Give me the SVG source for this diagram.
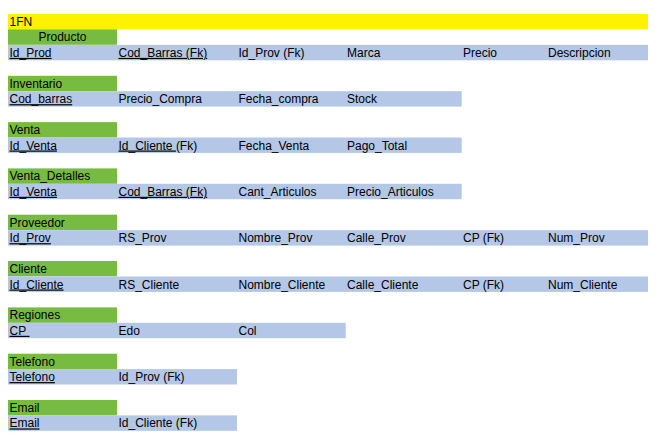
<svg xmlns="http://www.w3.org/2000/svg" width="668" height="434" viewBox="0 0 668 434">
<style>
text{font-family:"Liberation Sans",Arial,sans-serif;font-size:12px;fill:#000}
.y{fill:#fff200}
.g{fill:#77bc41}
.b{fill:#b4c7e7}
.u{text-decoration:underline}
</style>
<rect width="668" height="434" fill="#fff"/>
<g id="title">
<rect class="y" x="8" y="14" width="640" height="15.4"/>
<text x="9.5" y="26">1FN</text>
</g>
<g id="producto">
<rect class="g" x="8" y="29.4" width="109" height="15.4"/>
<text x="62.5" y="41.4" text-anchor="middle">Producto</text>
<rect class="b" x="8" y="44.9" width="640" height="15.4"/>
<text x="9.5" y="56.9" class="u">Id_Prod</text>
<text x="118.5" y="56.9" class="u">Cod_Barras (Fk)</text>
<text x="238.5" y="56.9">Id_Prov (Fk)</text>
<text x="347" y="56.9">Marca</text>
<text x="463" y="56.9">Precio</text>
<text x="548" y="56.9">Descripcion</text>
</g>
<g id="inventario">
<rect class="g" x="8" y="75.8" width="109" height="15.4"/>
<text x="9.5" y="87.8">Inventario</text>
<rect class="b" x="8" y="91.2" width="453.7" height="15.4"/>
<text x="9.5" y="103.2" class="u">Cod_barras</text>
<text x="118.5" y="103.2">Precio_Compra</text>
<text x="238.5" y="103.2">Fecha_compra</text>
<text x="347" y="103.2">Stock</text>
</g>
<g id="venta">
<rect class="g" x="8" y="122.1" width="109" height="15.4"/>
<text x="9.5" y="134.1">Venta</text>
<rect class="b" x="8" y="137.5" width="453.7" height="15.4"/>
<text x="9.5" y="149.5" class="u">Id_Venta</text>
<text x="118.5" y="149.5"><tspan class="u">Id_Cliente </tspan>(Fk)</text>
<text x="238.5" y="149.5">Fecha_Venta</text>
<text x="347" y="149.5">Pago_Total</text>
</g>
<g id="venta_detalles">
<rect class="g" x="8" y="168.4" width="109" height="15.4"/>
<text x="9.5" y="180.4">Venta_Detalles</text>
<rect class="b" x="8" y="183.8" width="453.7" height="15.4"/>
<text x="9.5" y="195.8" class="u">Id_Venta</text>
<text x="118.5" y="195.8" class="u">Cod_Barras (Fk)</text>
<text x="238.5" y="195.8">Cant_Articulos</text>
<text x="347" y="195.8">Precio_Articulos</text>
</g>
<g id="proveedor">
<rect class="g" x="8" y="214.7" width="109" height="15.4"/>
<text x="9.5" y="226.7">Proveedor</text>
<rect class="b" x="8" y="230.2" width="640" height="15.4"/>
<text x="9.5" y="242.2" class="u">Id_Prov</text>
<text x="118.5" y="242.2">RS_Prov</text>
<text x="238.5" y="242.2">Nombre_Prov</text>
<text x="347" y="242.2">Calle_Prov</text>
<text x="463" y="242.2">CP (Fk)</text>
<text x="548" y="242.2">Num_Prov</text>
</g>
<g id="cliente">
<rect class="g" x="8" y="261" width="109" height="15.4"/>
<text x="9.5" y="273">Cliente</text>
<rect class="b" x="8" y="276.5" width="640" height="15.4"/>
<text x="9.5" y="288.5" class="u">Id_Cliente</text>
<text x="118.5" y="288.5">RS_Cliente</text>
<text x="238.5" y="288.5">Nombre_Cliente</text>
<text x="347" y="288.5">Calle_Cliente</text>
<text x="463" y="288.5">CP (Fk)</text>
<text x="548" y="288.5">Num_Cliente</text>
</g>
<g id="regiones">
<rect class="g" x="8" y="307.4" width="109" height="15.4"/>
<text x="9.5" y="319.4">Regiones</text>
<rect class="b" x="8" y="322.8" width="337.7" height="15.4"/>
<text x="9.5" y="334.8" class="u" xml:space="preserve" style="white-space:pre">CP&#160;</text>
<text x="118.5" y="334.8">Edo</text>
<text x="238.5" y="334.8">Col</text>
</g>
<g id="telefono">
<rect class="g" x="8" y="353.7" width="109" height="15.4"/>
<text x="9.5" y="365.7">Telefono</text>
<rect class="b" x="8" y="369.1" width="229" height="15.4"/>
<text x="9.5" y="381.1" class="u">Telefono</text>
<text x="118.5" y="381.1">Id_Prov (Fk)</text>
</g>
<g id="email">
<rect class="g" x="8" y="400" width="109" height="15.4"/>
<text x="9.5" y="412">Email</text>
<rect class="b" x="8" y="415.4" width="229" height="15.4"/>
<text x="9.5" y="427.4" class="u">Email</text>
<text x="118.5" y="427.4">Id_Cliente (Fk)</text>
</g>
<g id="connectors"/>
</svg>
